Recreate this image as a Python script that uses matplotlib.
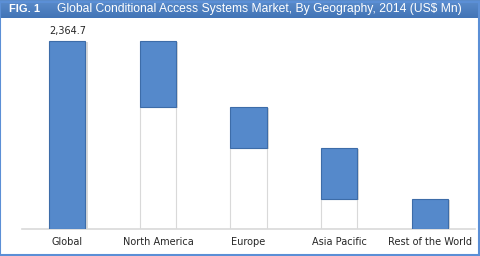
import matplotlib
matplotlib.use("Agg")
import matplotlib.pyplot as plt
from matplotlib.patches import Rectangle
from matplotlib.colors import LinearSegmentedColormap
import numpy as np

categories = ["Global", "North America", "Europe", "Asia Pacific", "Rest of the World"]
values = [2364.7, 830.2, 515.7, 641.5, 377.3]
label_text = "2,364.7"
title = "Global Conditional Access Systems Market, By Geography, 2014 (US$ Mn)"
fig_label = "FIG. 1"

# waterfall bases
bases = [0.0]
remaining = values[0]
for v in values[1:]:
    remaining -= v
    bases.append(max(remaining, 0.0))

fig = plt.figure(figsize=(4.8, 2.56), dpi=100)
fig.patch.set_facecolor("white")

# title bar
bar_ax = fig.add_axes([0, 1 - 18/256, 1, 18/256])
bar_ax.set_xlim(0, 1); bar_ax.set_ylim(0, 1)
grad = np.linspace(0, 1, 50).reshape(-1, 1)
cmap = LinearSegmentedColormap.from_list("tb", ["#4274B6", "#5B8CCB"])
bar_ax.imshow(grad, aspect="auto", cmap=cmap, extent=[0, 1, 0, 1], origin="lower")
bar_ax.axis("off")
bar_ax.text(9/480, 0.5, fig_label, color="white", fontsize=8, fontweight="bold",
            family="Liberation Sans", va="center", ha="left")
bar_ax.text(57/480, 0.5, title, color="white", fontsize=8.7,
            family="Liberation Sans", va="center", ha="left")

ax = fig.add_axes([22/480, 1 - 229/256, 453/480, (229 - 20)/256])
x = np.arange(len(categories))
w = 0.4
# white base bars
for i in range(1, len(categories)):
    if bases[i] > 0:
        ax.bar(x[i], bases[i], width=w, color="white", edgecolor="#D9D9D9", linewidth=0.8, zorder=2)
# shadows
ax.bar(x + 0.025, values, width=w, bottom=[b - 15 for b in bases], color="#BFBFBF", alpha=0.6,
       linewidth=0, zorder=2)
ax.bar(x, values, width=w, bottom=bases, color="#5589CB", edgecolor="#3D6CA8", linewidth=0.8, zorder=3)

ax.set_xlim(-0.5, len(categories) - 0.5)
ax.set_ylim(0, 2629)
for s in ["top", "right", "left"]:
    ax.spines[s].set_visible(False)
ax.spines["bottom"].set_color("#D9D9D9")
ax.spines["bottom"].set_linewidth(1.2)
ax.set_yticks([])
ax.set_xticks(x)
ax.set_xticklabels(categories, fontsize=7, color="#262626", family="DejaVu Sans")
ax.tick_params(axis="x", length=0, pad=6)
ax.text(x[0], values[0] + 60, label_text, ha="center", va="bottom", fontsize=7, color="#262626")

# outer border
fig.add_artist(Rectangle((0.001, 0.002), 0.997, 0.99, transform=fig.transFigure, fill=False,
                         edgecolor="#5B8FD6", linewidth=1.5))

fig.savefig("out.png", dpi=100)
